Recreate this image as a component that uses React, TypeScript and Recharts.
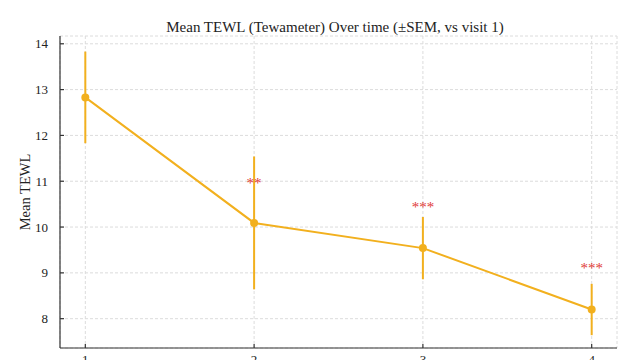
import React from 'react';
import { ComposedChart, Line, Scatter, XAxis, YAxis, CartesianGrid, ErrorBar } from 'recharts';

const visits = [1, 2, 3, 4];
const means = [12.83, 10.09, 9.54, 8.2];
const sems = [1.0, 1.45, 0.68, 0.56];
const starLabels = ['', '**', '***', '***'];
const starY = [null, 11.0, 10.49, 9.16];
const yTicks = [8, 9, 10, 11, 12, 13, 14];

const lineData = visits.map((v, i) => ({ visit: v, mean: means[i], sem: sems[i] }));
const starData = visits
  .map((v, i) => ({ visit: v, y: starY[i], label: starLabels[i] }))
  .filter((d) => d.y !== null && d.label !== '');

const COLOR = '#F2B01E';
const FONT = '"Liberation Serif", "Times New Roman", serif';

const StarShape = (props: any) => {
  const { cx, cy, payload } = props;
  return (
    <text x={cx} y={cy + 7} textAnchor="middle" fill="#E03A36" fontSize={15} fontFamily={FONT}>
      {payload.label}
    </text>
  );
};

export default function App() {
  return (
    <div style={{ position: 'relative', marginLeft: -8, marginTop: -8, width: 640, height: 380 }}>
      <ComposedChart
        width={640}
        height={380}
        margin={{ top: 36, right: 23, left: 20, bottom: 2 }}
        style={{ fontFamily: FONT }}
      >
        <CartesianGrid stroke="#dcdcdc" strokeDasharray="3 2" />
        <XAxis
          dataKey="visit"
          type="number"
          domain={[0.85, 4.15]}
          ticks={visits}
          allowDataOverflow
          height={30}
          tickSize={-4}
          tickMargin={11}
          stroke="#333"
          strokeWidth={1.2}
          tick={{ fill: '#222', fontSize: 13, fontFamily: FONT }}
        />
        <YAxis
          type="number"
          domain={[7.36, 14.17]}
          ticks={yTicks}
          allowDataOverflow
          width={40}
          tickSize={-4}
          tickMargin={16}
          stroke="#333"
          strokeWidth={1.2}
          tick={{ fill: '#222', fontSize: 13, fontFamily: FONT }}
        />
        <Line
          data={lineData}
          dataKey="mean"
          stroke={COLOR}
          strokeWidth={2}
          dot={{ r: 3, fill: COLOR, stroke: COLOR }}
          activeDot={false}
          isAnimationActive={false}
        >
          <ErrorBar dataKey="sem" direction="y" width={0} stroke={COLOR} strokeWidth={2} isAnimationActive={false} />
        </Line>
        <Scatter data={starData} dataKey="y" shape={<StarShape />} isAnimationActive={false} />
      </ComposedChart>
      <div
        style={{
          position: 'absolute',
          top: 19,
          left: 0,
          width: 670,
          textAlign: 'center',
          fontFamily: FONT,
          fontSize: 15,
          lineHeight: '17px',
          color: '#222',
        }}
      >
        Mean TEWL (Tewameter) Over time (±SEM, vs visit 1)
      </div>
      <div
        style={{
          position: 'absolute',
          left: 25,
          top: 192,
          transform: 'translate(-50%, -50%) rotate(-90deg)',
          fontFamily: FONT,
          fontSize: 14.5,
          lineHeight: '16px',
          color: '#222',
          whiteSpace: 'nowrap',
        }}
      >
        Mean TEWL
      </div>
    </div>
  );
}
